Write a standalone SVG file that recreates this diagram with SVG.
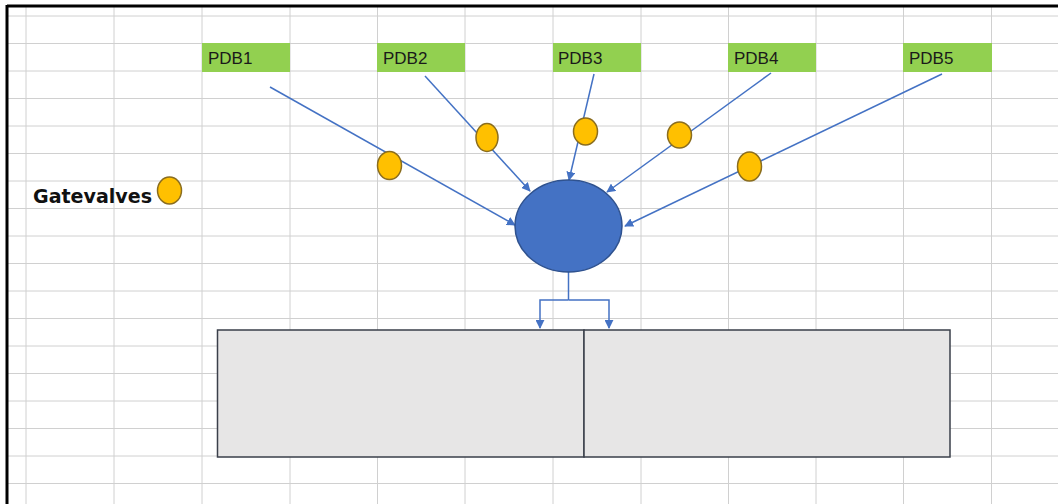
<svg xmlns="http://www.w3.org/2000/svg" width="1058" height="504" viewBox="0 0 1058 504">
<style>
.grid line{stroke:#d0d0d0;stroke-width:1}
.pdb rect{fill:#92D050}
.pdb text{font-family:"Liberation Sans",Arial,sans-serif;font-size:17px;fill:#1a1a1a}
.valve{fill:#FFC000;stroke:#8a6d1f;stroke-width:1.5}
.conn{stroke:#4472C4;stroke-width:1.5;fill:none}
.box{fill:#E7E6E6;stroke:#3a3f4a;stroke-width:1.5}
</style>
<defs>
<marker id="arr" viewBox="0 0 10 10" refX="9" refY="5" markerWidth="6" markerHeight="6" markerUnits="strokeWidth" orient="auto">
<path d="M0,0 L10,5 L0,10 z" fill="#4472C4"/>
</marker>
</defs>
<rect x="0" y="0" width="1058" height="504" fill="#ffffff"/>
<g class="grid">
<line x1="7" y1="16" x2="1058" y2="16"/>
<line x1="7" y1="43.5" x2="1058" y2="43.5"/>
<line x1="7" y1="71" x2="1058" y2="71"/>
<line x1="7" y1="98.5" x2="1058" y2="98.5"/>
<line x1="7" y1="126" x2="1058" y2="126"/>
<line x1="7" y1="153.5" x2="1058" y2="153.5"/>
<line x1="7" y1="181" x2="1058" y2="181"/>
<line x1="7" y1="208.5" x2="1058" y2="208.5"/>
<line x1="7" y1="236" x2="1058" y2="236"/>
<line x1="7" y1="263.5" x2="1058" y2="263.5"/>
<line x1="7" y1="291" x2="1058" y2="291"/>
<line x1="7" y1="318.5" x2="1058" y2="318.5"/>
<line x1="7" y1="346" x2="1058" y2="346"/>
<line x1="7" y1="373.5" x2="1058" y2="373.5"/>
<line x1="7" y1="401" x2="1058" y2="401"/>
<line x1="7" y1="428.5" x2="1058" y2="428.5"/>
<line x1="7" y1="456" x2="1058" y2="456"/>
<line x1="7" y1="483.5" x2="1058" y2="483.5"/>
<line x1="26" y1="6" x2="26" y2="504"/>
<line x1="114" y1="6" x2="114" y2="504"/>
<line x1="202" y1="6" x2="202" y2="504"/>
<line x1="290" y1="6" x2="290" y2="504"/>
<line x1="377.5" y1="6" x2="377.5" y2="504"/>
<line x1="465" y1="6" x2="465" y2="504"/>
<line x1="553" y1="6" x2="553" y2="504"/>
<line x1="641" y1="6" x2="641" y2="504"/>
<line x1="728.5" y1="6" x2="728.5" y2="504"/>
<line x1="816" y1="6" x2="816" y2="504"/>
<line x1="903.5" y1="6" x2="903.5" y2="504"/>
<line x1="991.5" y1="6" x2="991.5" y2="504"/>
</g>
<g id="frame">
<line x1="7" y1="6" x2="1058" y2="6" stroke="#000" stroke-width="3"/>
<line x1="7" y1="5" x2="7" y2="504" stroke="#000" stroke-width="3"/>
</g>
<g id="pdb1" class="pdb"><rect x="202" y="43" width="88" height="29"/><text x="208" y="64">PDB1</text></g>
<g id="pdb2" class="pdb"><rect x="377" y="43" width="88" height="29"/><text x="383" y="64">PDB2</text></g>
<g id="pdb3" class="pdb"><rect x="553" y="43" width="88" height="29"/><text x="558" y="64">PDB3</text></g>
<g id="pdb4" class="pdb"><rect x="728" y="43" width="88" height="29"/><text x="734" y="64">PDB4</text></g>
<g id="pdb5" class="pdb"><rect x="903" y="43" width="89" height="29"/><text x="909" y="64">PDB5</text></g>
<g id="box-left"><rect class="box" x="217.5" y="330" width="366.5" height="127"/></g>
<g id="box-right"><rect class="box" x="584" y="330" width="366" height="127"/></g>
<g id="connectors">
<line class="conn" x1="270" y1="87" x2="515" y2="225" marker-end="url(#arr)"/>
<line class="conn" x1="425" y1="76" x2="530" y2="191" marker-end="url(#arr)"/>
<line class="conn" x1="594" y1="74" x2="569" y2="180" marker-end="url(#arr)"/>
<line class="conn" x1="771" y1="73" x2="607" y2="192" marker-end="url(#arr)"/>
<line class="conn" x1="942" y1="74" x2="625" y2="226" marker-end="url(#arr)"/>
<polyline class="conn" points="568.5,272 568.5,300"/>
<polyline class="conn" points="568.5,300 540,300 540,328" marker-end="url(#arr)"/>
<polyline class="conn" points="568.5,300 609,300 609,328" marker-end="url(#arr)"/>
</g>
<g id="manifold"><ellipse cx="568.5" cy="226" rx="53.5" ry="46" fill="#4472C4" stroke="#2F528F" stroke-width="1.5"/></g>
<g id="valve1"><ellipse class="valve" cx="389.5" cy="165.5" rx="12" ry="14"/></g>
<g id="valve2"><ellipse class="valve" cx="487" cy="137.5" rx="11" ry="14"/></g>
<g id="valve3"><ellipse class="valve" cx="585.5" cy="131.5" rx="12" ry="13.5"/></g>
<g id="valve4"><ellipse class="valve" cx="679.5" cy="135" rx="12" ry="13"/></g>
<g id="valve5"><ellipse class="valve" cx="749.5" cy="166.5" rx="12" ry="14.5"/></g>
<g id="legend">
<text x="33" y="203" font-family="'DejaVu Sans',Verdana,sans-serif" font-weight="bold" font-size="19" textLength="119" lengthAdjust="spacingAndGlyphs" fill="#111">Gatevalves</text>
<ellipse class="valve" cx="169.5" cy="190.5" rx="12" ry="13.5"/>
</g>
</svg>
